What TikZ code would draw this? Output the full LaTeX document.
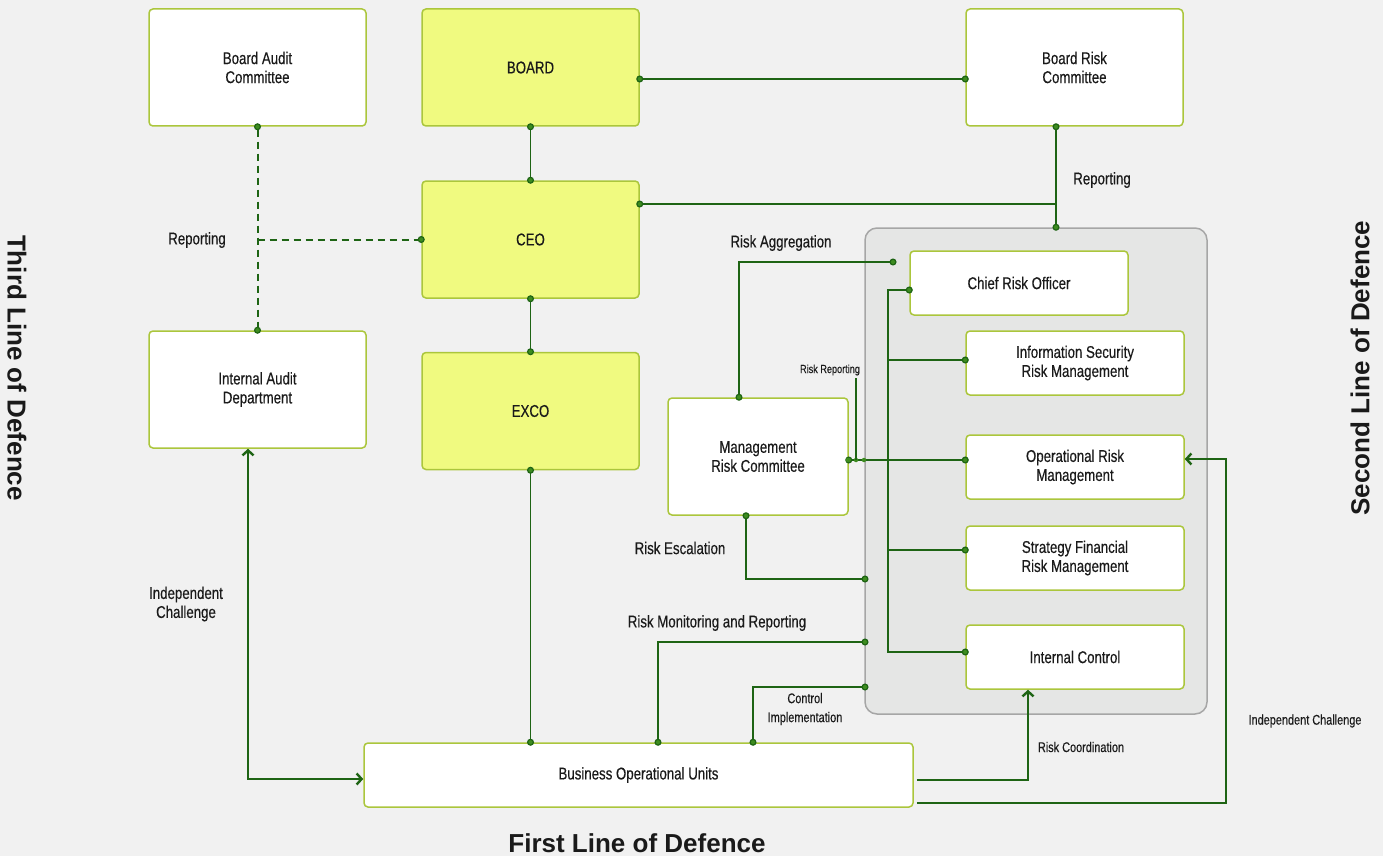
\documentclass[tikz,border=0pt]{standalone}
\usepackage{fontspec}
\setmainfont[FakeStretch=0.78, FakeBold=0.35]{Liberation Sans}
\newfontfamily\sidefont{Liberation Sans}
\usetikzlibrary{arrows.meta}
\definecolor{bgGrey}{HTML}{F1F1F1}
\definecolor{boxLine}{HTML}{ABC63C}
\definecolor{boardFill}{HTML}{F0FA80}
\definecolor{lodFill}{HTML}{E5E6E5}
\definecolor{lodLine}{HTML}{A6A6A6}
\definecolor{linkGreen}{HTML}{1E6414}
\definecolor{dotGreen}{HTML}{3D8C1F}
\definecolor{txt}{HTML}{1A1A1A}
\tikzset{
	dotTip/.tip={Circle[length=7pt,fill=dotGreen,line width=1.2pt]},
	chev/.tip={Straight Barb[length=5pt,width=11pt,line width=2.4pt]}
}

\begin{document}
\begin{tikzpicture}[x=1pt, y=-1pt, font=\fontsize{17}{19}\selectfont, text=txt,
	box/.style={rectangle, rounded corners=4pt, draw=boxLine, line width=1.5pt, fill=white, minimum width=217pt, minimum height=117pt, align=center, inner sep=0pt},
	keybox/.style={box, fill=boardFill},
	slim/.style={box, minimum width=218pt, minimum height=64pt},
	link/.style={draw=linkGreen, line width=1.6pt},
	dots/.style={link, dotTip-dotTip, shorten <=-3.5pt, shorten >=-3.5pt},
	dotend/.style={link, -dotTip, shorten >=-3.5pt},
	dashLink/.style={draw=linkGreen, line width=2pt, dash pattern=on 7pt off 5pt},
	arrowed/.style={link, -chev},
	small/.style={font=\fontsize{14}{19}\selectfont, align=center},
	tiny/.style={font=\fontsize{11.7}{14}\selectfont},
	jdot/.style={circle, fill=dotGreen, inner sep=0pt, minimum size=4.5pt},
	lod/.style={font=\sidefont\bfseries\fontsize{26}{30}\selectfont}]
	\fill[bgGrey] (0,0) rectangle (1383,856);
	\useasboundingbox (0,0) rectangle (1383,856);
	% second line container
	\node (secLine) [rectangle, rounded corners=12pt, draw=lodLine, line width=1.5pt, fill=lodFill, minimum width=342pt, minimum height=486pt] at (1036,471) {};
	% boxes
	\node (boardAudit) [box] at (257.5,67.5) {Board Audit\\Committee};
	\node (board) [keybox] at (530.5,67.5) {BOARD};
	\node (boardRisk) [box] at (1074.5,67.5) {Board Risk\\Committee};
	\node (ceo) [keybox] at (530.5,239.5) {CEO};
	\node (exco) [keybox] at (530.5,411) {EXCO};
	\node (intAudit) [box] at (257.5,389.5) {Internal Audit\\Department};
	\node (mgmtRisk) [box, minimum width=180pt] at (758,456.5) {Management\\Risk Committee};
	\node (cro) [slim] at (1019,283) {Chief Risk Officer};
	\node (infoSec) [slim] at (1075,363) {Information Security\\Risk Management};
	\node (opRisk) [slim] at (1075,467) {Operational Risk\\Management};
	\node (stratFin) [slim] at (1075,558) {Strategy Financial\\Risk Management};
	\node (intCtrl) [slim] at (1075,657) {Internal Control};
	\node (bizUnits) [slim, minimum width=549pt] at (638.5,775) {Business Operational Units};
	% governance chain
	\draw[dots] ([yshift=-11.5pt]board.east) -- ([yshift=-11.5pt]boardRisk.west);
	\draw[dots] (board.south) -- (ceo.north);
	\draw[dots] (ceo.south) -- (exco.north);
	\draw[dots] (exco.south) -- (exco.south |- bizUnits.north);
	% third line
	\draw[dots, dashLink] (boardAudit.south) -- (intAudit.north);
	\draw[dotend, dashLink] (boardAudit.south |- ceo.west) -- (ceo.west);
	\draw[arrowed, chev-chev] ([xshift=-9.5pt]intAudit.south) |- ([yshift=-4pt]bizUnits.west);
	% reporting to board risk committee
	\coordinate (repJoin) at ([xshift=-18.5pt]boardRisk.south);
	\coordinate (ceoOut) at ([yshift=35.5pt]ceo.east);
	\draw[dots] (repJoin) -- (repJoin |- secLine.north);
	\draw[link, dotTip-, shorten <=-3.5pt] (ceoOut) -- (ceoOut -| repJoin);
	% risk committee links
	\coordinate (aggEnd) at (893,262);
	\draw[dots] ([xshift=-19pt]mgmtRisk.north) |- (aggEnd);
	\draw[dots] ([yshift=-3.5pt]mgmtRisk.east) -- ([yshift=7pt]opRisk.west);
	\coordinate (repTop) at (856,378);
	\node (repJunction) [jdot] at (856,460) {};
	\node (edgeJunction) [jdot] at (864,460) {};
	\node (mrcJunction) [jdot] at (848,460) {};
	\draw[link] (repTop) -- (repJunction.center);
	\coordinate (escEnd) at (865,579);
	\draw[dots] ([xshift=-12pt]mgmtRisk.south) |- (escEnd);
	% CRO trunk
	\coordinate (trunkTop) at (888,290);
	\coordinate (isBranch) at (888,360);
	\coordinate (sfBranch) at (888,550);
	\draw[dots] ([yshift=-7pt]cro.west) -- (trunkTop) |- ([yshift=5pt]intCtrl.west);
	\draw[dotend] (isBranch) -- ([yshift=3pt]infoSec.west);
	\draw[dotend] (sfBranch) -- ([yshift=8pt]stratFin.west);
	% first line
	\coordinate (monEnd) at (865,642);
	\coordinate (ctrlEnd) at (865,687);
	\draw[dots] ([xshift=19.5pt]bizUnits.north) |- (monEnd);
	\draw[dots] ([xshift=114.5pt]bizUnits.north) |- (ctrlEnd);
	\draw[arrowed] ([xshift=3pt,yshift=-5pt]bizUnits.east) -| ([xshift=-47pt]intCtrl.south);
	\coordinate (chalCorner) at (1226,803);
	\draw[arrowed] ([xshift=3pt,yshift=-28pt]bizUnits.east) -- (chalCorner) |- ([yshift=8pt]opRisk.east);
	% labels
	\node (lblRepLeft) at (197,240) {Reporting};
	\node (lblRepRight) at (1102,180) {Reporting};
	\node (lblAgg) at (781,243) {Risk Aggregation};
	\node (lblRiskRep) [tiny] at (830,370) {Risk Reporting};
	\node (lblEsc) at (680,548) {Risk Escalation};
	\node (lblMon) at (717,623) {Risk Monitoring and Reporting};
	\node (lblCtrl) [small] at (805,709) {Control\\Implementation};
	\node (lblCoord) [small] at (1081,747) {Risk Coordination};
	\node (lblChalRight) [small] at (1305,721) {Independent Challenge};
	\node (lblChalLeft) [align=center] at (186,604) {Independent\\Challenge};
	%Überschriften
	\node (lblThird) [lod, rotate=-90] at (17,368) {Third Line of Defence};
	\node (lblSecond) [lod, rotate=90] at (1360,368) {Second Line of Defence};
	\node (lblFirst) [lod] at (637,843) {First Line of Defence};
\end{tikzpicture}
\end{document}
